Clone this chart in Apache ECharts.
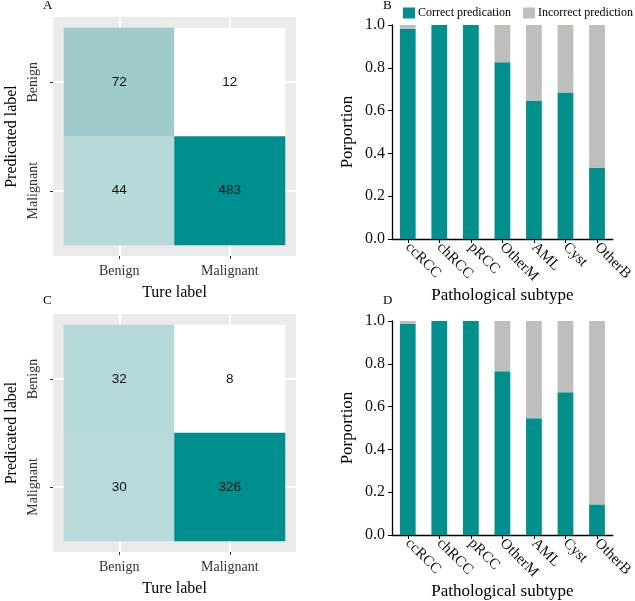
<!DOCTYPE html>
<html>
<head>
<meta charset="utf-8">
<script src="https://cdn.jsdelivr.net/npm/echarts@6/dist/echarts.min.js"></script>
<style>html,body{margin:0;padding:0;background:#fff}#c{width:635px;height:601px}</style>
</head>
<body>
<div id="c"></div>
<script>
// ---- data ----
var trueLabels = ['Benign', 'Malignant'];
var predLabels = ['Benign', 'Malignant'];
// confusion matrix: [trueIndex, predIndex, count]
var cmA = [[0, 0, 72], [1, 0, 12], [0, 1, 44], [1, 1, 483]];
var cmC = [[0, 0, 32], [1, 0, 8], [0, 1, 30], [1, 1, 326]];
var subtypes = ['ccRCC', 'chRCC', 'pRCC', 'OtherM', 'AML', 'Cyst', 'OtherB'];
var correctB = [0.983, 1.0, 1.0, 0.826, 0.645, 0.684, 0.333];
var incorrectB = [0.017, 0, 0, 0.174, 0.355, 0.316, 0.667];
var correctD = [0.986, 1.0, 1.0, 0.765, 0.545, 0.667, 0.143];
var incorrectD = [0.014, 0, 0, 0.235, 0.455, 0.333, 0.857];
var seriesNames = ['Correct predication', 'Incorrect prediction'];

// ---- styles ----
var cellColorsA = ['#9fcacb', '#ffffff', '#b7d9d9', '#008f8f'];
var cellColorsC = ['#b5d8d9', '#ffffff', '#b8dada', '#008f8f'];
var TEAL = '#008f8d', GREY = '#bebebb';
var SERIF = 'Liberation Serif', SANS = 'Liberation Sans';
// panel background slots (ggplot-style expanded panel: 0.4..2.6 in steps of 0.2)
var panelSlots = ['s0', 's1', 's2', 's3', 's4', 's5', 's6', 's7', 's8', 's9', 's10', 's11'];
var gridLineIdx = [3, 8];

function cells(cm, colors) {
  return cm.map(function (d, i) {
    return { value: d, itemStyle: { color: colors[i] } };
  });
}

var chart = echarts.init(document.getElementById('c'), null, { renderer: 'canvas' });

function hmAxis(gi, isX) {
  var a = {
    type: 'category', gridIndex: gi, data: isX ? trueLabels : predLabels,
    position: isX ? 'bottom' : 'left', offset: 11,
    axisLine: { show: false },
    axisTick: { show: true, alignWithLabel: true, length: 3, lineStyle: { color: '#333', width: 1 } },
    axisLabel: { show: true, fontFamily: SERIF, fontSize: 14, color: '#333',
      margin: isX ? 8 : 13, rotate: isX ? 0 : 90 },
    splitLine: { show: false },
    name: isX ? 'Ture label' : 'Predicated label',
    nameLocation: 'middle', nameGap: isX ? 29 : 33,
    nameTextStyle: { fontFamily: SERIF, fontSize: 16, color: '#000' }
  };
  if (!isX) a.inverse = true;
  return a;
}

function bgAxis(gi) {
  return {
    type: 'category', gridIndex: gi, data: panelSlots, boundaryGap: false, z: 5,
    axisLine: { show: false }, axisTick: { show: false }, axisLabel: { show: false },
    splitLine: { show: true, interval: function (i) { return gridLineIdx.indexOf(i) >= 0; },
      lineStyle: { color: '#ffffff', width: 1.8 } }
  };
}

function barX(gi, nameGap) {
  return {
    type: 'category', gridIndex: gi, data: subtypes,
    axisLine: { lineStyle: { color: '#000', width: 1.3 } },
    axisTick: { show: true, alignWithLabel: true, length: 4, lineStyle: { color: '#000' } },
    axisLabel: { rotate: -45, fontFamily: SERIF, fontSize: 15, color: '#111', margin: 6, interval: 0 },
    name: 'Pathological subtype', nameLocation: 'middle', nameGap: nameGap,
    nameTextStyle: { fontFamily: SERIF, fontSize: 17, color: '#000' }
  };
}
function barY(gi) {
  return {
    type: 'value', gridIndex: gi, min: 0, max: 1, interval: 0.2,
    axisLine: { show: true, lineStyle: { color: '#000', width: 1.3 } },
    axisTick: { show: true, length: 4, lineStyle: { color: '#000' } },
    axisLabel: { fontFamily: SERIF, fontSize: 16, color: '#111', margin: 7,
      formatter: function (v) { return v.toFixed(1); } },
    splitLine: { show: false },
    name: 'Porportion', nameLocation: 'middle', nameGap: 36,
    nameTextStyle: { fontFamily: SERIF, fontSize: 17, color: '#000' }
  };
}

var xAxes = [bgAxis(0), hmAxis(1, true), barX(2, 45), bgAxis(3), hmAxis(4, true), barX(5, 46)];
var yAxes = [bgAxis(0), hmAxis(1, false), barY(2), bgAxis(3), hmAxis(4, false), barY(5)];

function hmSeries(xi, yi, cm, colors) {
  return {
    type: 'heatmap', xAxisIndex: xi, yAxisIndex: yi, z: 20,
    data: cells(cm, colors),
    label: { show: true, fontFamily: SANS, fontSize: 13.5, color: '#111',
      formatter: function (p) { return p.value[2]; } },
    emphasis: { disabled: true }
  };
}
function barSeries(xi, yi, vals, idx) {
  return {
    type: 'bar', name: seriesNames[idx], stack: 'p' + xi, xAxisIndex: xi, yAxisIndex: yi,
    data: vals, barWidth: '50%', itemStyle: { color: idx === 0 ? TEAL : GREY },
    emphasis: { disabled: true }
  };
}

var letterStyle = { fontFamily: SERIF, fontSize: 13, fontWeight: 'normal', color: '#000' };
var option = {
  animation: false,
  backgroundColor: '#ffffff',
  title: [
    { text: 'A', left: 43, top: -1, padding: 0, textStyle: letterStyle },
    { text: 'B', left: 383, top: -1, padding: 0, textStyle: letterStyle },
    { text: 'C', left: 43, top: 294, padding: 0, textStyle: letterStyle },
    { text: 'D', left: 383, top: 294, padding: 0, textStyle: letterStyle }
  ],
  legend: {
    data: seriesNames, left: 403, top: 7, padding: 0, itemGap: 12,
    icon: 'rect', itemWidth: 12, itemHeight: 11,
    textStyle: { fontFamily: SERIF, fontSize: 12, color: '#000', padding: [0, 0, 0, -2] },
    selectedMode: false
  },
  grid: [
    { left: 53, top: 17, width: 243, height: 239, show: true, backgroundColor: '#ebebeb', borderWidth: 0, z: -5 },
    { left: 64, top: 28, width: 221, height: 217 },
    { left: 392, top: 25, width: 230, height: 214 },
    { left: 53, top: 314, width: 243, height: 238, show: true, backgroundColor: '#ebebeb', borderWidth: 0, z: -5 },
    { left: 64, top: 325, width: 221, height: 216 },
    { left: 392, top: 321, width: 230, height: 214 }
  ],
  xAxis: xAxes,
  yAxis: yAxes,
  series: [
    hmSeries(1, 1, cmA, cellColorsA),
    barSeries(2, 2, correctB, 0),
    barSeries(2, 2, incorrectB, 1),
    hmSeries(4, 4, cmC, cellColorsC),
    barSeries(5, 5, correctD, 0),
    barSeries(5, 5, incorrectD, 1)
  ]
};
chart.setOption(option);
</script>
</body>
</html>
